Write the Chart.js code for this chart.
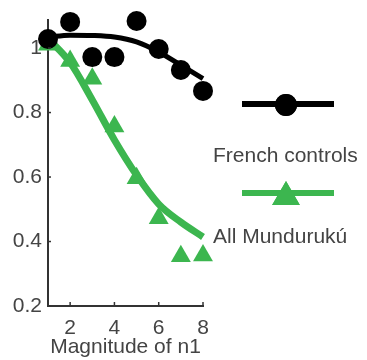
<!DOCTYPE html>
<html>
<head>
<meta charset="utf-8">
<script src="https://cdn.jsdelivr.net/npm/chart.js@4/dist/chart.umd.min.js"></script>
<style>
  body { margin: 0; background: #fff; }
  #wrap { width: 367px; height: 360px; }
</style>
</head>
<body>
<div id="wrap"><canvas id="chart" width="367" height="360"></canvas></div>
<script>
// values
const magnitudes = [1, 2, 3, 4, 5, 6, 7, 8];
const frenchValues = [1.028, 1.081, 0.972, 0.972, 1.084, 0.997, 0.932, 0.867];
const frenchFit = [1.034, 1.04, 1.039, 1.034, 1.019, 0.988, 0.947, 0.905];
const mundurukuValues = [1.01, 0.96, 0.905, 0.757, 0.596, 0.472, 0.354, 0.357];
const mundurukuFit = [1.03, 0.955, 0.839, 0.715, 0.606, 0.516, 0.46, 0.414];
const yTicks = [0.2, 0.4, 0.6, 0.8, 1];
const yTickLabels = ['0.2', '0.4', '0.6', '0.8', '1'];
const xTicks = [2, 4, 6, 8];
const seriesNames = ['French controls', 'All Mundurukú'];

const GREEN = '#3cb64f';
const TEXT = '#444';
const FONT = "'Liberation Sans', Arial, sans-serif";

const toPoints = vals => vals.map((v, i) => ({ x: magnitudes[i], y: v }));

// small inward tick marks on both axes
const innerTicks = {
    id: 'innerTicks',
    afterDatasetsDraw(chart) {
        const { ctx, scales: { x, y } } = chart;
        ctx.save();
        ctx.strokeStyle = '#333';
        ctx.lineWidth = 1.5;
        xTicks.forEach(v => {
            const px = x.getPixelForValue(v);
            ctx.beginPath();
            ctx.moveTo(px, y.bottom);
            ctx.lineTo(px, y.bottom - 4);
            ctx.stroke();
        });
        yTicks.forEach(v => {
            const py = y.getPixelForValue(v);
            ctx.beginPath();
            ctx.moveTo(x.left, py);
            ctx.lineTo(x.left + 3, py);
            ctx.stroke();
        });
        ctx.restore();
    }
};

// legend: symbol above its text, to the right of the plot
const sideLegend = {
    id: 'sideLegend',
    afterDraw(chart) {
        const ctx = chart.ctx;
        const items = [
            { color: '#000', style: 'circle', r: 11, lineY: 104, markY: 105, textY: 162 },
            { color: GREEN, style: 'triangle', r: 16, lineY: 193, markY: 197, textY: 243 }
        ];
        ctx.save();
        items.forEach((it, i) => {
            ctx.strokeStyle = it.color;
            ctx.lineWidth = 6;
            ctx.beginPath();
            ctx.moveTo(242, it.lineY);
            ctx.lineTo(334, it.lineY);
            ctx.stroke();
            ctx.fillStyle = it.color;
            Chart.helpers.drawPoint(ctx, { pointStyle: it.style, radius: it.r, borderWidth: 0 }, 286, it.markY);
            ctx.fill();
            ctx.fillStyle = TEXT;
            ctx.font = '21px ' + FONT;
            ctx.textAlign = 'left';
            ctx.textBaseline = 'alphabetic';
            ctx.fillText(seriesNames[i], 213, it.textY);
        });
        ctx.restore();
    }
};

new Chart(document.getElementById('chart'), {
    type: 'line',
    data: {
        datasets: [
            {
                label: seriesNames[0],
                data: toPoints(frenchValues),
                showLine: false,
                pointStyle: 'circle',
                pointRadius: 10,
                pointBorderWidth: 0,
                pointBackgroundColor: '#000',
                borderColor: '#000',
                clip: false,
                order: 1
            },
            {
                label: seriesNames[1],
                data: toPoints(mundurukuValues),
                showLine: false,
                pointStyle: 'triangle',
                pointRadius: 11.5,
                pointBorderWidth: 0,
                pointBackgroundColor: GREEN,
                borderColor: GREEN,
                clip: false,
                order: 2
            },
            {
                label: 'French fit',
                data: toPoints(frenchFit),
                borderColor: '#000',
                borderWidth: 5,
                pointRadius: 0,
                cubicInterpolationMode: 'monotone',
                clip: false,
                order: 3
            },
            {
                label: 'Mundurukú fit',
                data: toPoints(mundurukuFit),
                borderColor: GREEN,
                borderWidth: 7,
                pointRadius: 0,
                cubicInterpolationMode: 'monotone',
                clip: false,
                order: 4
            }
        ]
    },
    options: {
        responsive: false,
        animation: false,
        layout: { padding: { top: 20, right: 164, bottom: 0, left: 0 } },
        plugins: {
            legend: { display: false },
            tooltip: { enabled: false }
        },
        scales: {
            x: {
                type: 'linear',
                min: 1,
                max: 8,
                afterBuildTicks: scale => { scale.ticks = xTicks.map(v => ({ value: v })); },
                afterFit: scale => { scale.height = 54; },
                grid: { display: false, drawTicks: false },
                border: { display: true, color: '#333', width: 2 },
                ticks: {
                    padding: 10,
                    color: TEXT,
                    font: { family: FONT, size: 21 }
                },
                title: {
                    display: true,
                    text: 'Magnitude of n1',
                    color: TEXT,
                    padding: { top: 0, bottom: 0 },
                    font: { family: FONT, size: 21 }
                }
            },
            y: {
                min: 0.2,
                max: 1.087,
                afterBuildTicks: scale => { scale.ticks = yTicks.map(v => ({ value: v })); },
                afterFit: scale => { scale.width = 48; },
                grid: { display: false, drawTicks: false },
                border: { display: true, color: '#333', width: 2 },
                ticks: {
                    padding: 6,
                    color: TEXT,
                    font: { family: FONT, size: 21 },
                    callback: (value, index) => yTickLabels[index]
                }
            }
        }
    },
    plugins: [innerTicks, sideLegend]
});
</script>
</body>
</html>
